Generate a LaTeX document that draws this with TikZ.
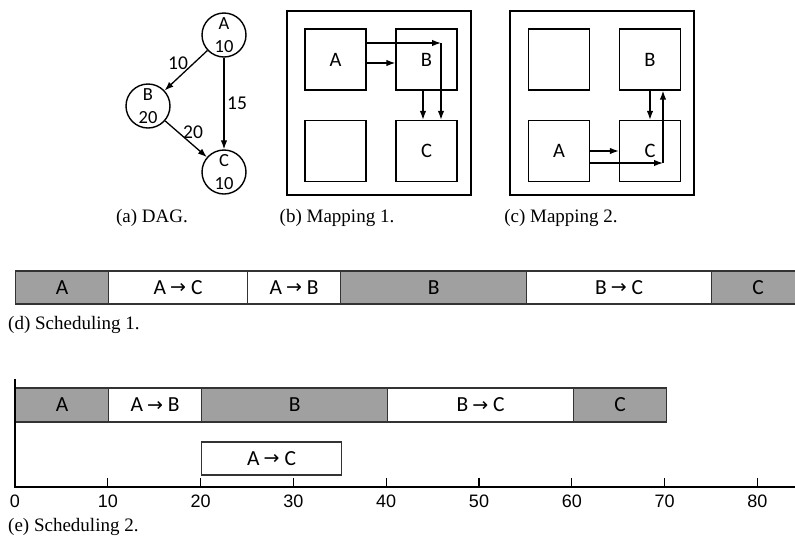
\documentclass[tikz,border=0pt]{standalone}
\usepackage{fontspec}
\newfontfamily\calfont{Carlito}
\newfontfamily\libfont{Liberation Sans}
\newfontfamily\serfont{Liberation Serif}
\newfontfamily\dvfont{DejaVu Sans}
\usetikzlibrary{arrows.meta}
\definecolor{gfill}{HTML}{A0A0A0}
\definecolor{edgegray}{HTML}{333333}
\newcommand{\rarr}{\hspace{4pt}{\dvfont\fontsize{19}{19}\selectfont\raisebox{0.5pt}{→}}\hspace{5pt}}
\begin{document}
\begin{tikzpicture}[x=1pt,y=-1pt,
  circ/.style={circle, draw, line width=1.4pt, minimum size=44pt, inner sep=0pt, align=center, font=\calfont\fontsize{18.5}{23.5}\selectfont},
  sq/.style={draw, line width=1.3pt, minimum size=61pt, inner sep=0pt, font=\calfont\fontsize{20.5}{21}\selectfont},
  outer/.style={draw, line width=1.4pt, minimum size=184pt, inner sep=0pt},
  arr/.style={-{Latex[length=9pt,width=6.5pt]}, line width=1.3pt},
  elab/.style={inner sep=1pt, font=\calfont\fontsize{19.5}{20}\selectfont},
  gbox/.style={draw=edgegray, fill=gfill, line width=1.2pt, minimum height=33pt, inner sep=0pt, anchor=west, font=\calfont\fontsize{21.5}{22}\selectfont},
  wbox/.style={gbox, fill=white},
  capt/.style={inner sep=0pt, font=\serfont\fontsize{19}{20}\selectfont},
  ticklab/.style={inner sep=0pt, font=\libfont\fontsize{18}{18}\selectfont},
  axis/.style={line width=1.2pt, draw=black}
]
\useasboundingbox (0,0) rectangle (795,542);
\clip (0,0) rectangle (795,542);

% (a) DAG
\node[circ] (A) at (224,35) {A\\10};
\node[circ] (B) at (148,106) {B\\20};
\node[circ] (C) at (224,172) {C\\10};
\draw[arr] (A) -- (B);
\draw[arr] (A) -- (C);
\draw[arr] (B) -- (C);
\node[elab] (lab) at (178,63) {10};
\node[elab] (lac) at (237,103) {15};
\node[elab] (lbc) at (193,132) {20};
\node[capt] (capa) at (152,218) {(a) DAG.};

% (b) Mapping 1
\node[outer] (o1) at (379,103) {};
\node[sq] (mA) at (335.5,59.5) {A};
\node[sq] (mB) at (426.5,59.5) {B};
\node[sq] (mE) at (335.5,151) {};
\node[sq] (mC) at (426.5,151) {C};
\coordinate (k1) at (441,43);
\draw[arr] (mA.east |- k1) -- (k1);
\draw[arr] (k1) -- (k1 |- mC.north);
\draw[arr] ([yshift=-3.5pt]mA.east) -- ([yshift=-3.5pt]mB.west);
\draw[arr] ([xshift=-3.5pt]mB.south) -- ([xshift=-3.5pt]mC.north);
\node[capt] (capb) at (337,218) {(b) Mapping 1.};

% (c) Mapping 2
\node[outer] (o2) at (602,103) {};
\node[sq] (nE) at (559,59.5) {};
\node[sq] (nB) at (650,59.5) {B};
\node[sq] (nA) at (559,151) {A};
\node[sq] (nC) at (650,151) {C};
\draw[arr] (nA) -- (nC);
\coordinate (k2) at (663,163);
\draw[arr] (nA.east |- k2) -- (k2);
\draw[arr] (k2) -- (k2 |- nB.south);
\draw[arr] (nB) -- (nC);
\node[capt] (capc) at (561,218) {(c) Mapping 2.};

% (d) Scheduling 1
\node[gbox, minimum width=93pt] (dA) at (15,287.5) {A};
\node[wbox, minimum width=139pt] (dAC) at (108,287.5) {A\rarr C};
\node[wbox, minimum width=93pt] (dAB) at (247,287.5) {A\rarr B};
\node[gbox, minimum width=186pt] (dB) at (340,287.5) {B};
\node[wbox, minimum width=185pt] (dBC) at (526,287.5) {B\rarr C};
\node[gbox, minimum width=93pt] (dC) at (711,287.5) {C};
\node[capt, anchor=west] (capd) at (8,325) {(d) Scheduling 1.};

% (e) Scheduling 2
\coordinate (yt) at (15,379);
\coordinate (or) at (15,487);
\coordinate (xe) at (795,487);
\node[gbox, minimum width=93pt, minimum height=34pt] (eA) at (15,405) {A};
\node[wbox, minimum width=93pt, minimum height=34pt] (eAB) at (108,405) {A\rarr B};
\node[gbox, minimum width=186pt, minimum height=34pt] (eB) at (201,405) {B};
\node[wbox, minimum width=186pt, minimum height=34pt] (eBC) at (387,405) {B\rarr C};
\node[gbox, minimum width=93pt, minimum height=34pt] (eC) at (573,405) {C};
\node[wbox, minimum width=140pt] (eAC) at (201,458.5) {A\rarr C};
\draw[axis] (yt) -- (or) -- (xe);
\foreach \k in {1,...,8} {
  \coordinate (tk\k) at ({15+92.8*\k},478);
  \draw[axis] (tk\k) -- (tk\k |- or);
}
\foreach \k in {0,...,8} {
  \pgfmathtruncatemacro{\v}{10*\k}
  \node[ticklab] (tl\k) at ({15+92.8*\k},501) {\v};
}
\node[capt, anchor=west] (cape) at (8,527) {(e) Scheduling 2.};
\end{tikzpicture}
\end{document}
